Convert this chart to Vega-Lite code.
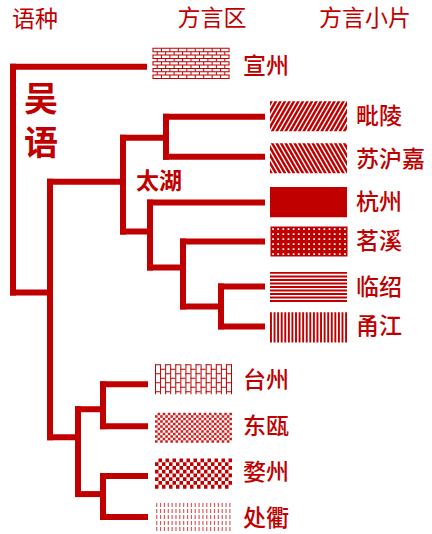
{
  "$schema": "https://vega.github.io/schema/vega-lite/v6.json",
  "width": 432,
  "height": 534,
  "autosize": {"type": "fit", "contains": "padding"},
  "padding": 0,
  "background": "white",
  "config": {"view": {"stroke": null}},
  "datasets": {
    "sw": [
      {"name": "宣州", "x": 191, "y": 63.5},
      {"name": "毗陵", "x": 308.5, "y": 116.5},
      {"name": "苏沪嘉", "x": 308.5, "y": 158.5},
      {"name": "杭州", "x": 308.5, "y": 202.5},
      {"name": "茗溪", "x": 309, "y": 242},
      {"name": "临绍", "x": 308.5, "y": 287.5},
      {"name": "甬江", "x": 308.5, "y": 328},
      {"name": "台州", "x": 193.5, "y": 380},
      {"name": "东瓯", "x": 193.5, "y": 428.5},
      {"name": "婺州", "x": 193.5, "y": 474.5},
      {"name": "处衢", "x": 193.5, "y": 519}
    ],
    "edges": [
      {"x": 13, "y": 67, "x2": 13, "y2": 293},
      {"x": 13, "y": 67, "x2": 144, "y2": 67},
      {"x": 13, "y": 293, "x2": 50, "y2": 293},
      {"x": 50, "y": 182, "x2": 50, "y2": 438},
      {"x": 50, "y": 182, "x2": 123, "y2": 182},
      {"x": 123, "y": 138, "x2": 123, "y2": 232},
      {"x": 123, "y": 138, "x2": 166, "y2": 138},
      {"x": 166, "y": 117, "x2": 166, "y2": 157},
      {"x": 166, "y": 117, "x2": 262, "y2": 117},
      {"x": 166, "y": 157, "x2": 262, "y2": 157},
      {"x": 123, "y": 232, "x2": 150, "y2": 232},
      {"x": 150, "y": 203, "x2": 150, "y2": 268},
      {"x": 150, "y": 203, "x2": 262, "y2": 203},
      {"x": 150, "y": 268, "x2": 183, "y2": 268},
      {"x": 183, "y": 242, "x2": 183, "y2": 307},
      {"x": 183, "y": 242, "x2": 262, "y2": 242},
      {"x": 183, "y": 307, "x2": 221, "y2": 307},
      {"x": 221, "y": 287, "x2": 221, "y2": 327},
      {"x": 221, "y": 287, "x2": 262, "y2": 287},
      {"x": 221, "y": 327, "x2": 262, "y2": 327},
      {"x": 50, "y": 438, "x2": 78, "y2": 438},
      {"x": 78, "y": 410, "x2": 78, "y2": 495},
      {"x": 78, "y": 410, "x2": 103, "y2": 410},
      {"x": 103, "y": 385, "x2": 103, "y2": 427},
      {"x": 103, "y": 385, "x2": 145, "y2": 385},
      {"x": 103, "y": 427, "x2": 145, "y2": 427},
      {"x": 78, "y": 495, "x2": 103, "y2": 495},
      {"x": 103, "y": 477, "x2": 103, "y2": 518},
      {"x": 103, "y": 477, "x2": 145, "y2": 477},
      {"x": 103, "y": 518, "x2": 145, "y2": 518}
    ],
    "lab": [
      {"text": "语种", "x": 35, "y": 20, "role": "head"},
      {"text": "方言区", "x": 212, "y": 19, "role": "head"},
      {"text": "方言小片", "x": 365, "y": 19, "role": "head"},
      {"text": "吴\n语", "x": 41, "y": 101, "role": "lang"},
      {"text": "太湖", "x": 136, "y": 182, "role": "group"},
      {"text": "宣州", "x": 243, "y": 67, "role": "leaf"},
      {"text": "毗陵", "x": 356, "y": 117, "role": "leaf"},
      {"text": "苏沪嘉", "x": 356, "y": 160, "role": "leaf"},
      {"text": "杭州", "x": 356, "y": 203, "role": "leaf"},
      {"text": "茗溪", "x": 356, "y": 242, "role": "leaf"},
      {"text": "临绍", "x": 356, "y": 289, "role": "leaf"},
      {"text": "甬江", "x": 356, "y": 328, "role": "leaf"},
      {"text": "台州", "x": 243, "y": 382, "role": "leaf"},
      {"text": "东瓯", "x": 243, "y": 428, "role": "leaf"},
      {"text": "婺州", "x": 243, "y": 474, "role": "leaf"},
      {"text": "处衢", "x": 243, "y": 520, "role": "leaf"}
    ]
  },
  "encoding": {
    "x": {"field": "x", "type": "quantitative", "scale": {"domain": [0, 432], "nice": false, "zero": false}, "axis": null},
    "y": {"field": "y", "type": "quantitative", "scale": {"domain": [0, 534], "nice": false, "zero": false, "reverse": true}, "axis": null}
  },
  "layer": [
    {
      "data": {"name": "sw"},
      "mark": {"type": "point", "filled": true, "size": 5929, "opacity": 1, "strokeWidth": 0},
      "encoding": {
        "shape": {
          "field": "name",
          "type": "nominal",
          "legend": null,
          "scale": {
            "domain": ["宣州", "毗陵", "苏沪嘉", "杭州", "茗溪", "临绍", "甬江", "台州", "东瓯", "婺州", "处衢"],
            "range": [
              "M-1,-0.39h0.026v0.78h-0.026v-0.78zm0.1097,0h0.026v0.78h-0.026v-0.78zm0.1097,0h0.026v0.78h-0.026v-0.78zm0.1097,0h0.026v0.78h-0.026v-0.78zm0.1097,0h0.026v0.78h-0.026v-0.78zm0.1097,0h0.026v0.78h-0.026v-0.78zm0.1097,0h0.026v0.78h-0.026v-0.78zm0.1097,0h0.026v0.78h-0.026v-0.78zm0.1097,0h0.026v0.78h-0.026v-0.78zm0.1097,0h0.026v0.78h-0.026v-0.78zm0.1097,0h0.026v0.78h-0.026v-0.78zm0.1097,0h0.026v0.78h-0.026v-0.78zm0.1097,0h0.026v0.78h-0.026v-0.78zm0.1097,0h0.026v0.78h-0.026v-0.78zm0.1097,0h0.026v0.78h-0.026v-0.78zm0.1097,0h0.026v0.78h-0.026v-0.78zm0.1097,0h0.026v0.78h-0.026v-0.78zm0.1097,0h0.026v0.78h-0.026v-0.78zm0.1097,0h0.026v0.78h-0.026v-0.78z",
              "M-1.45,0.39h0.075l0.45,-0.78h-0.075l-0.45,0.78zm0.117,0h0.075l0.45,-0.78h-0.075l-0.45,0.78zm0.117,0h0.075l0.45,-0.78h-0.075l-0.45,0.78zm0.117,0h0.075l0.45,-0.78h-0.075l-0.45,0.78zm0.117,0h0.075l0.45,-0.78h-0.075l-0.45,0.78zm0.117,0h0.075l0.45,-0.78h-0.075l-0.45,0.78zm0.117,0h0.075l0.45,-0.78h-0.075l-0.45,0.78zm0.117,0h0.075l0.45,-0.78h-0.075l-0.45,0.78zm0.117,0h0.075l0.45,-0.78h-0.075l-0.45,0.78zm0.117,0h0.075l0.45,-0.78h-0.075l-0.45,0.78zm0.117,0h0.075l0.45,-0.78h-0.075l-0.45,0.78zm0.117,0h0.075l0.45,-0.78h-0.075l-0.45,0.78zm0.117,0h0.075l0.45,-0.78h-0.075l-0.45,0.78zm0.117,0h0.075l0.45,-0.78h-0.075l-0.45,0.78zm0.117,0h0.075l0.45,-0.78h-0.075l-0.45,0.78zm0.117,0h0.075l0.45,-0.78h-0.075l-0.45,0.78zm0.117,0h0.075l0.45,-0.78h-0.075l-0.45,0.78zm0.117,0h0.075l0.45,-0.78h-0.075l-0.45,0.78zm0.117,0h0.075l0.45,-0.78h-0.075l-0.45,0.78zm0.117,0h0.075l0.45,-0.78h-0.075l-0.45,0.78zm0.117,0h0.075l0.45,-0.78h-0.075l-0.45,0.78zm0.117,0h0.075l0.45,-0.78h-0.075l-0.45,0.78z",
              "M-1.45,-0.39h0.075l0.45,0.78h-0.075l-0.45,-0.78zm0.117,0h0.075l0.45,0.78h-0.075l-0.45,-0.78zm0.117,0h0.075l0.45,0.78h-0.075l-0.45,-0.78zm0.117,0h0.075l0.45,0.78h-0.075l-0.45,-0.78zm0.117,0h0.075l0.45,0.78h-0.075l-0.45,-0.78zm0.117,0h0.075l0.45,0.78h-0.075l-0.45,-0.78zm0.117,0h0.075l0.45,0.78h-0.075l-0.45,-0.78zm0.117,0h0.075l0.45,0.78h-0.075l-0.45,-0.78zm0.117,0h0.075l0.45,0.78h-0.075l-0.45,-0.78zm0.117,0h0.075l0.45,0.78h-0.075l-0.45,-0.78zm0.117,0h0.075l0.45,0.78h-0.075l-0.45,-0.78zm0.117,0h0.075l0.45,0.78h-0.075l-0.45,-0.78zm0.117,0h0.075l0.45,0.78h-0.075l-0.45,-0.78zm0.117,0h0.075l0.45,0.78h-0.075l-0.45,-0.78zm0.117,0h0.075l0.45,0.78h-0.075l-0.45,-0.78zm0.117,0h0.075l0.45,0.78h-0.075l-0.45,-0.78zm0.117,0h0.075l0.45,0.78h-0.075l-0.45,-0.78zm0.117,0h0.075l0.45,0.78h-0.075l-0.45,-0.78zm0.117,0h0.075l0.45,0.78h-0.075l-0.45,-0.78zm0.117,0h0.075l0.45,0.78h-0.075l-0.45,-0.78zm0.117,0h0.075l0.45,0.78h-0.075l-0.45,-0.78zm0.117,0h0.075l0.45,0.78h-0.075l-0.45,-0.78z",
              "M-1,-0.39H1V0.39H-1Z",
              "M-1,-0.39H1V0.39H-1ZM-1,-0.39H1V0.39H-1ZM-0.9558,-0.39v0.78h0.045v-0.78h-0.045zm0.1333,0v0.78h0.045v-0.78h-0.045zm0.1333,0v0.78h0.045v-0.78h-0.045zm0.1333,0v0.78h0.045v-0.78h-0.045zm0.1333,0v0.78h0.045v-0.78h-0.045zm0.1333,0v0.78h0.045v-0.78h-0.045zm0.1333,0v0.78h0.045v-0.78h-0.045zm0.1333,0v0.78h0.045v-0.78h-0.045zm0.1333,0v0.78h0.045v-0.78h-0.045zm0.1333,0v0.78h0.045v-0.78h-0.045zm0.1333,0v0.78h0.045v-0.78h-0.045zm0.1333,0v0.78h0.045v-0.78h-0.045zm0.1333,0v0.78h0.045v-0.78h-0.045zm0.1333,0v0.78h0.045v-0.78h-0.045zm0.1333,0v0.78h0.045v-0.78h-0.045zM-1,-0.3475v0.045h2v-0.045h-2zm0,0.13v0.045h2v-0.045h-2zm0,0.13v0.045h2v-0.045h-2zm0,0.13v0.045h2v-0.045h-2zm0,0.13v0.045h2v-0.045h-2zm0,0.13v0.045h2v-0.045h-2z",
              "M-1,-0.39h2v0.05h-2v-0.05zm0,0.0913h2v0.05h-2v-0.05zm0,0.0913h2v0.05h-2v-0.05zm0,0.0913h2v0.05h-2v-0.05zm0,0.0913h2v0.05h-2v-0.05zm0,0.0913h2v0.05h-2v-0.05zm0,0.0913h2v0.05h-2v-0.05zm0,0.0913h2v0.05h-2v-0.05zm0,0.0913h2v0.05h-2v-0.05z",
              "M-1,-0.39h0.05v0.78h-0.05v-0.78zm0.0929,0h0.05v0.78h-0.05v-0.78zm0.0929,0h0.05v0.78h-0.05v-0.78zm0.0929,0h0.05v0.78h-0.05v-0.78zm0.0929,0h0.05v0.78h-0.05v-0.78zm0.0929,0h0.05v0.78h-0.05v-0.78zm0.0929,0h0.05v0.78h-0.05v-0.78zm0.0929,0h0.05v0.78h-0.05v-0.78zm0.0929,0h0.05v0.78h-0.05v-0.78zm0.0929,0h0.05v0.78h-0.05v-0.78zm0.0929,0h0.05v0.78h-0.05v-0.78zm0.0929,0h0.05v0.78h-0.05v-0.78zm0.0929,0h0.05v0.78h-0.05v-0.78zm0.0929,0h0.05v0.78h-0.05v-0.78zm0.0929,0h0.05v0.78h-0.05v-0.78zm0.0929,0h0.05v0.78h-0.05v-0.78zm0.0929,0h0.05v0.78h-0.05v-0.78zm0.0929,0h0.05v0.78h-0.05v-0.78zm0.0929,0h0.05v0.78h-0.05v-0.78zm0.0929,0h0.05v0.78h-0.05v-0.78zm0.0929,0h0.05v0.78h-0.05v-0.78zm0.0929,0h0.05v0.78h-0.05v-0.78z",
              "M-1,-0.39h2v0.026h-2v-0.026zm0,0.117h2v0.026h-2v-0.026zm0,0.117h2v0.026h-2v-0.026zm0,0.117h2v0.026h-2v-0.026zm0,0.117h2v0.026h-2v-0.026zm0,0.117h2v0.026h-2v-0.026zm0,0.117h2v0.026h-2v-0.026z",
              "M-1,-0.39h0.0667v0.78h-0.0667v-0.78zm0.1333,0h0.0667v0.78h-0.0667v-0.78zm0.1333,0h0.0667v0.78h-0.0667v-0.78zm0.1333,0h0.0667v0.78h-0.0667v-0.78zm0.1333,0h0.0667v0.78h-0.0667v-0.78zm0.1333,0h0.0667v0.78h-0.0667v-0.78zm0.1333,0h0.0667v0.78h-0.0667v-0.78zm0.1333,0h0.0667v0.78h-0.0667v-0.78zm0.1333,0h0.0667v0.78h-0.0667v-0.78zm0.1333,0h0.0667v0.78h-0.0667v-0.78zm0.1333,0h0.0667v0.78h-0.0667v-0.78zm0.1333,0h0.0667v0.78h-0.0667v-0.78zm0.1333,0h0.0667v0.78h-0.0667v-0.78zm0.1333,0h0.0667v0.78h-0.0667v-0.78zm0.1333,0h0.0667v0.78h-0.0667v-0.78zM-1,-0.39v0.065h2v-0.065h-2zm0,0.13v0.065h2v-0.065h-2zm0,0.13v0.065h2v-0.065h-2zm0,0.13v0.065h2v-0.065h-2zm0,0.13v0.065h2v-0.065h-2zm0,0.13v0.065h2v-0.065h-2z",
              "M-1,-0.39h0.0909v0.78h-0.0909v-0.78zm0.1818,0h0.0909v0.78h-0.0909v-0.78zm0.1818,0h0.0909v0.78h-0.0909v-0.78zm0.1818,0h0.0909v0.78h-0.0909v-0.78zm0.1818,0h0.0909v0.78h-0.0909v-0.78zm0.1818,0h0.0909v0.78h-0.0909v-0.78zm0.1818,0h0.0909v0.78h-0.0909v-0.78zm0.1818,0h0.0909v0.78h-0.0909v-0.78zm0.1818,0h0.0909v0.78h-0.0909v-0.78zm0.1818,0h0.0909v0.78h-0.0909v-0.78zm0.1818,0h0.0909v0.78h-0.0909v-0.78zM-1,-0.39v0.0975h2v-0.0975h-2zm0,0.195v0.0975h2v-0.0975h-2zm0,0.195v0.0975h2v-0.0975h-2zm0,0.195v0.0975h2v-0.0975h-2z",
              "M-0.97,-0.39h0.03v0.78h-0.03v-0.78zm0.1,0h0.03v0.78h-0.03v-0.78zm0.1,0h0.03v0.78h-0.03v-0.78zm0.1,0h0.03v0.78h-0.03v-0.78zm0.1,0h0.03v0.78h-0.03v-0.78zm0.1,0h0.03v0.78h-0.03v-0.78zm0.1,0h0.03v0.78h-0.03v-0.78zm0.1,0h0.03v0.78h-0.03v-0.78zm0.1,0h0.03v0.78h-0.03v-0.78zm0.1,0h0.03v0.78h-0.03v-0.78zm0.1,0h0.03v0.78h-0.03v-0.78zm0.1,0h0.03v0.78h-0.03v-0.78zm0.1,0h0.03v0.78h-0.03v-0.78zm0.1,0h0.03v0.78h-0.03v-0.78zm0.1,0h0.03v0.78h-0.03v-0.78zm0.1,0h0.03v0.78h-0.03v-0.78zm0.1,0h0.03v0.78h-0.03v-0.78zm0.1,0h0.03v0.78h-0.03v-0.78zm0.1,0h0.03v0.78h-0.03v-0.78zm0.1,0h0.03v0.78h-0.03v-0.78z"
            ]
          }
        },
        "fill": {
          "field": "name",
          "type": "nominal",
          "legend": null,
          "scale": {
            "domain": ["宣州", "毗陵", "苏沪嘉", "杭州", "茗溪", "临绍", "甬江", "台州", "东瓯", "婺州", "处衢"],
            "range": ["#c00000", "#c00000", "#c00000", "#c00000", "#c00000", "#c00000", "#c00000", "#c00000", "#cc2020", "#c00000", "#dd5555"]
          }
        }
      }
    },
    {
      "data": {"name": "sw"},
      "transform": [{"filter": {"field": "name", "oneOf": ["宣州", "毗陵", "苏沪嘉", "台州", "处衢"]}}],
      "mark": {"type": "point", "filled": true, "size": 5929, "opacity": 1, "strokeWidth": 0, "fill": "white"},
      "encoding": {
        "shape": {
          "field": "name",
          "type": "nominal",
          "legend": null,
          "scale": {
            "domain": ["宣州", "毗陵", "苏沪嘉", "台州", "处衢"],
            "range": [
              "M-0.9303,-0.39h0.106v0.78h-0.106v-0.78zm0.2194,0h0.106v0.78h-0.106v-0.78zm0.2194,0h0.106v0.78h-0.106v-0.78zm0.2194,0h0.106v0.78h-0.106v-0.78zm0.2194,0h0.106v0.78h-0.106v-0.78zm0.2194,0h0.106v0.78h-0.106v-0.78zm0.2194,0h0.106v0.78h-0.106v-0.78zm0.2194,0h0.106v0.78h-0.106v-0.78zm0.2194,0h0.106v0.78h-0.106v-0.78zM-1.05,-0.3033v0.0867h2.1v-0.0867h-2.1zm0,0.1734v0.0867h2.1v-0.0867h-2.1zm0,0.1734v0.0867h2.1v-0.0867h-2.1zm0,0.1734v0.0867h2.1v-0.0867h-2.1z",
              "M-1.6,-0.42H-1V0.42H-1.6ZM1,-0.42H1.6V0.42H1Z",
              "M-1.6,-0.42H-1V0.42H-1.6ZM1,-0.42H1.6V0.42H1Z",
              "M-0.8684,-0.42h0.1316v0.84h-0.1316v-0.84zm0.2632,0h0.1316v0.84h-0.1316v-0.84zm0.2632,0h0.1316v0.84h-0.1316v-0.84zm0.2632,0h0.1316v0.84h-0.1316v-0.84zm0.2632,0h0.1316v0.84h-0.1316v-0.84zm0.2632,0h0.1316v0.84h-0.1316v-0.84zm0.2632,0h0.1316v0.84h-0.1316v-0.84zM-1.05,-0.313v0.106h2.1v-0.106h-2.1zm0,0.234v0.106h2.1v-0.106h-2.1zm0,0.234v0.106h2.1v-0.106h-2.1z",
              "M-1.05,-0.284v0.05h2.1v-0.05h-2.1zm0,0.156v0.05h2.1v-0.05h-2.1zm0,0.156v0.05h2.1v-0.05h-2.1zm0,0.156v0.05h2.1v-0.05h-2.1zm0,0.156v0.05h2.1v-0.05h-2.1z"
            ]
          }
        }
      }
    },
    {
      "data": {"name": "sw"},
      "transform": [{"filter": {"field": "name", "oneOf": ["宣州", "台州"]}}],
      "mark": {"type": "point", "filled": true, "size": 5929, "opacity": 1, "strokeWidth": 0, "fill": "#c00000"},
      "encoding": {
        "shape": {
          "field": "name",
          "type": "nominal",
          "legend": null,
          "scale": {
            "domain": ["宣州", "台州"],
            "range": [
              "M-1,-0.403h2v0.026h-2v-0.026zm0,0.0867h2v0.026h-2v-0.026zm0,0.0867h2v0.026h-2v-0.026zm0,0.0867h2v0.026h-2v-0.026zm0,0.0867h2v0.026h-2v-0.026zm0,0.0867h2v0.026h-2v-0.026zm0,0.0867h2v0.026h-2v-0.026zm0,0.0867h2v0.026h-2v-0.026zm0,0.0867h2v0.026h-2v-0.026zm0,0.0867h2v0.026h-2v-0.026z",
              "M-1,-0.39h0.026v0.78h-0.026v-0.78zm0.1316,0h0.026v0.78h-0.026v-0.78zm0.1316,0h0.026v0.78h-0.026v-0.78zm0.1316,0h0.026v0.78h-0.026v-0.78zm0.1316,0h0.026v0.78h-0.026v-0.78zm0.1316,0h0.026v0.78h-0.026v-0.78zm0.1316,0h0.026v0.78h-0.026v-0.78zm0.1316,0h0.026v0.78h-0.026v-0.78zm0.1316,0h0.026v0.78h-0.026v-0.78zm0.1316,0h0.026v0.78h-0.026v-0.78zm0.1316,0h0.026v0.78h-0.026v-0.78zm0.1316,0h0.026v0.78h-0.026v-0.78zm0.1316,0h0.026v0.78h-0.026v-0.78zm0.1316,0h0.026v0.78h-0.026v-0.78zm0.1316,0h0.026v0.78h-0.026v-0.78zm0.1316,0h0.026v0.78h-0.026v-0.78z"
            ]
          }
        }
      }
    },
    {
      "data": {"name": "edges"},
      "mark": {"type": "rule", "color": "#c00000", "strokeWidth": 6, "strokeCap": "square"},
      "encoding": {
        "x2": {"field": "x2"},
        "y2": {"field": "y2"}
      }
    },
    {
      "data": {"name": "lab"},
      "transform": [{"filter": "datum.role == 'leaf'"}],
      "mark": {"type": "text", "align": "left", "baseline": "middle", "font": "Noto Sans CJK SC", "fontSize": 23, "fontWeight": 500, "color": "#c00000"},
      "encoding": {"text": {"field": "text"}}
    },
    {
      "data": {"name": "lab"},
      "transform": [{"filter": "datum.role == 'head'"}],
      "mark": {"type": "text", "align": "center", "baseline": "middle", "font": "Noto Sans CJK SC", "fontSize": 23, "color": "#c00000"},
      "encoding": {"text": {"field": "text"}}
    },
    {
      "data": {"name": "lab"},
      "transform": [{"filter": "datum.role == 'lang'"}],
      "mark": {"type": "text", "align": "center", "baseline": "middle", "font": "Noto Sans CJK SC", "fontSize": 34, "fontWeight": "bold", "lineBreak": "\n", "lineHeight": 44, "color": "#c00000"},
      "encoding": {"text": {"field": "text"}}
    },
    {
      "data": {"name": "lab"},
      "transform": [{"filter": "datum.role == 'group'"}],
      "mark": {"type": "text", "align": "left", "baseline": "middle", "font": "Noto Sans CJK SC", "fontSize": 23, "fontWeight": "bold", "color": "#c00000"},
      "encoding": {"text": {"field": "text"}}
    }
  ],
  "resolve": {"scale": {"shape": "independent", "fill": "independent"}}
}
